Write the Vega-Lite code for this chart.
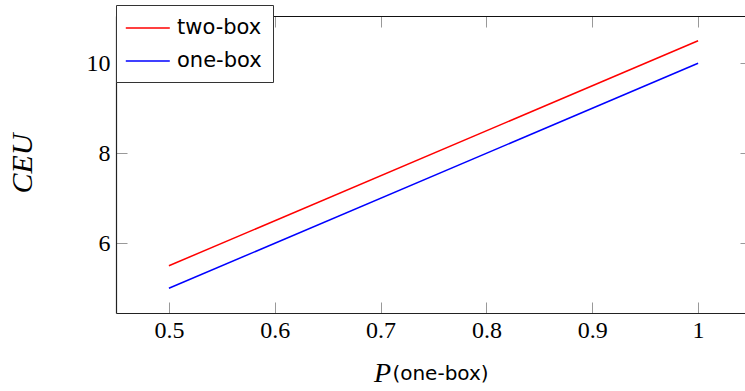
{
  "$schema": "https://vega.github.io/schema/vega-lite/v6.json",
  "autosize": {"type": "none"},
  "padding": {"left": 116, "top": 16, "right": 0, "bottom": 78},
  "width": 635,
  "height": 297,
  "background": "white",
  "config": {"view": {"stroke": null}},
  "data": {
    "values": [
      {"p": 0.5, "ceu": 5.5, "series": "two-box"},
      {"p": 1.0, "ceu": 10.5, "series": "two-box"},
      {"p": 0.5, "ceu": 5.0, "series": "one-box"},
      {"p": 1.0, "ceu": 10.0, "series": "one-box"}
    ]
  },
  "resolve": {"axis": {"x": "independent", "y": "independent"}},
  "layer": [
    {
      "mark": {"type": "line", "strokeWidth": 1.5},
      "encoding": {
        "x": {
          "field": "p", "type": "quantitative",
          "scale": {"domain": [0.45, 1.05], "nice": false, "zero": false},
          "axis": {
            "orient": "bottom",
            "values": [0.5, 0.6, 0.7, 0.8, 0.9, 1.0],
            "labelExpr": "datum.value == 1 ? '1' : format(datum.value, '.1f')",
            "labelFont": "Liberation Serif", "labelFontSize": 24, "labelColor": "black",
            "labelPadding": 16,
            "tickSize": -11, "tickColor": "#999999", "tickWidth": 1,
            "domainColor": "#222222", "domainWidth": 1.2,
            "grid": false,
            "title": "(one-box)",
            "titleFont": "DejaVu Sans", "titleFontSize": 20, "titleFontWeight": "normal", "titleColor": "black",
            "titleX": 324, "titleY": 60, "titleAlign": "center", "titleBaseline": "middle"
          }
        },
        "y": {
          "field": "ceu", "type": "quantitative",
          "scale": {"domain": [4.45, 11.05], "nice": false, "zero": false},
          "axis": {
            "orient": "left",
            "values": [6, 8, 10],
            "labelFont": "Liberation Serif", "labelFontSize": 24, "labelColor": "black",
            "labelPadding": 17,
            "tickSize": -11, "tickColor": "#999999", "tickWidth": 1,
            "domainColor": "#222222", "domainWidth": 1.2,
            "grid": false,
            "title": "CEU",
            "titleFont": "Liberation Serif", "titleFontStyle": "italic", "titleFontSize": 30, "titleFontWeight": "normal", "titleColor": "black",
            "titleAngle": -90, "titleX": -94, "titleY": 147, "titleAlign": "center", "titleBaseline": "middle"
          }
        },
        "color": {
          "field": "series", "type": "nominal",
          "scale": {"domain": ["two-box", "one-box"], "range": ["#ff0000", "#0000ff"]},
          "legend": {
            "orient": "none", "legendX": 0, "legendY": -11,
            "title": null,
            "symbolType": "M-1.2,0H2.8", "symbolSize": 484, "symbolStrokeWidth": 1.5,
            "labelFont": "DejaVu Sans", "labelFontSize": 21, "labelColor": "black",
            "labelOffset": 26,
            "rowPadding": 11,
            "padding": 11,
            "strokeColor": "#333333", "fillColor": "white", "cornerRadius": 0
          }
        }
      }
    },
    {
      "mark": {"type": "line", "strokeOpacity": 0},
      "encoding": {
        "x": {
          "field": "p", "type": "quantitative",
          "axis": {
            "orient": "top",
            "values": [0.5, 0.6, 0.7, 0.8, 0.9, 1.0],
            "labels": false,
            "tickSize": -11, "tickColor": "#999999", "tickWidth": 1,
            "domainColor": "#111111", "domainWidth": 1.2,
            "grid": false,
            "title": "P",
            "titleFont": "Liberation Serif", "titleFontStyle": "italic", "titleFontSize": 28, "titleFontWeight": "normal", "titleColor": "black",
            "titleX": 266, "titleY": 357, "titleAlign": "center", "titleBaseline": "middle", "titleAngle": 0
          }
        },
        "y": {
          "field": "ceu", "type": "quantitative",
          "axis": {
            "orient": "right",
            "values": [6, 8, 10],
            "labels": false,
            "tickSize": -11, "tickColor": "#999999", "tickWidth": 1,
            "domainColor": "#111111", "domainWidth": 1.2,
            "grid": false,
            "title": null
          }
        },
        "detail": {"field": "series", "type": "nominal"}
      }
    }
  ]
}
